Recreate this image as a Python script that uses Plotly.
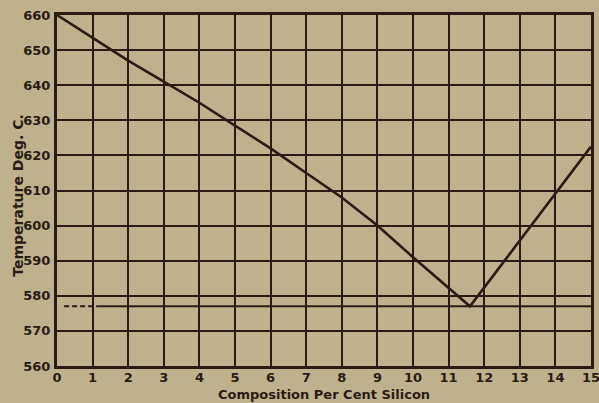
import plotly.graph_objects as go

# Liquidus curve (Al-Si), composition % Si vs temperature °C
silicon_pct = [0, 1, 2, 3, 4, 5, 6, 7, 8, 9, 10, 11.6, 15]
liquidus_temp = [660, 653.5, 647, 641, 635, 628.5, 622, 615, 608, 600, 591, 577, 622.5]

# Eutectic horizontal
eutectic_temp = 577
eutectic_dash_x = [0.2, 1.2]
eutectic_solid_x = [1.2, 15]

x_ticks = list(range(0, 16))
y_ticks = list(range(560, 661, 10))

x_title = "Composition Per Cent Silicon"
y_title = "Temperature Deg. C."

ink = "#2a1c14"
paper = "#bdb28c"

fig = go.Figure()
fig.add_trace(go.Scatter(x=eutectic_dash_x, y=[eutectic_temp] * 2, mode="lines",
                         line=dict(color=ink, width=2, dash="5px,3px"), hoverinfo="skip"))
fig.add_trace(go.Scatter(x=eutectic_solid_x, y=[eutectic_temp] * 2, mode="lines",
                         line=dict(color=ink, width=2), hoverinfo="skip"))
fig.add_trace(go.Scatter(x=silicon_pct, y=liquidus_temp, mode="lines",
                         line=dict(color=ink, width=2.6)))

axis_common = dict(showgrid=True, gridcolor=ink, gridwidth=2, showline=True, linecolor=ink,
                   linewidth=3, mirror=True, zeroline=False, ticks="", automargin=False,
                   ticklabeloverflow="allow",
                   tickfont=dict(family="DejaVu Sans", size=13, color=ink, weight="bold"))

fig.update_layout(
    width=599, height=403,
    margin=dict(l=57, r=8, t=15, b=37),
    paper_bgcolor=paper, plot_bgcolor=paper,
    showlegend=False,
    xaxis=dict(range=[0, 15], tickvals=x_ticks, ticktext=[str(v) for v in x_ticks],
               ticklabelstandoff=-3, **axis_common),
    yaxis=dict(range=[560, 660], tickvals=y_ticks, ticktext=[str(v) for v in y_ticks],
               ticklabelstandoff=1, **axis_common),
    annotations=[
        dict(text=x_title, xref="paper", yref="paper", x=0.5, y=0, yshift=-28,
             xanchor="center", yanchor="middle", showarrow=False,
             font=dict(family="DejaVu Sans", size=13, color=ink, weight="bold")),
        dict(text=y_title, xref="paper", yref="paper", x=0, y=0.485, xshift=-39,
             xanchor="center", yanchor="middle", showarrow=False, textangle=-90,
             font=dict(family="DejaVu Sans", size=14, color=ink, weight="bold")),
    ],
)

fig.write_html("out.html", config={"displayModeBar": False},
               post_script="document.body.style.margin='0';document.body.style.background='%s';" % paper)
